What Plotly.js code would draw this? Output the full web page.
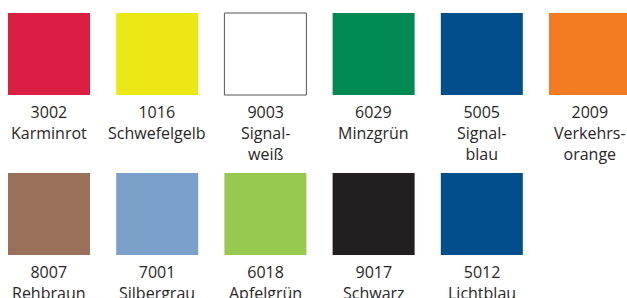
<!DOCTYPE html>
<html>
<head>
<meta charset="utf-8">
<script src="https://cdn.plot.ly/plotly-3.0.1.min.js"></script>
<style>html,body{margin:0;padding:0;background:#fff;}#chart{width:627px;height:298px;}</style>
</head>
<body>
<div id="chart"></div>
<script>
const codes = ["3002","1016","9003","6029","5005","2009","8007","7001","6018","9017","5012"];
const names = ["Karminrot","Schwefelgelb","Signal-<br>weiß","Minzgrün","Signal-<br>blau","Verkehrs-<br>orange","Rehbraun","Silbergrau","Apfelgrün","Schwarz","Lichtblau"];
const colors = ["#da1f43","#ece815","#ffffff","#008a53","#004f8d","#f47b22","#9a705a","#7ba1cb","#98c94f","#231f20","#004f8d"];
const outlineWidths = [0,0,1,0,0,0,0,0,0,0,0];

const perRow = 6;
const xs = codes.map((c,i)=> i % perRow);
const ys = codes.map((c,i)=> Math.floor(i / perRow));

const trace = {
  type: 'scatter',
  mode: 'markers',
  x: xs,
  y: ys,
  marker: {symbol: 'square', size: 82, color: colors, line: {color: '#555555', width: outlineWidths}},
  hoverinfo: 'skip',
  showlegend: false
};

const annotations = codes.map((c,i)=>({
  x: xs[i], y: ys[i], xref: 'x', yref: 'y',
  text: c + '<br>' + names[i],
  showarrow: false,
  yanchor: 'top',
  xanchor: 'center',
  yshift: -45,
  align: 'center',
  font: {family: 'Open Sans, sans-serif', size: 16, color: '#2a2627'}
}));

const layout = {
  width: 627, height: 298,
  margin: {l:0, r:0, t:0, b:0},
  paper_bgcolor: '#ffffff', plot_bgcolor: '#ffffff',
  xaxis: {range: [-0.4529, 5.3419], visible: false, fixedrange: true},
  yaxis: {range: [1.525, -0.3375], visible: false, fixedrange: true},
  annotations: annotations,
  showlegend: false
};

Plotly.newPlot('chart', [trace], layout, {displayModeBar: false, staticPlot: true});
</script>
</body>
</html>
